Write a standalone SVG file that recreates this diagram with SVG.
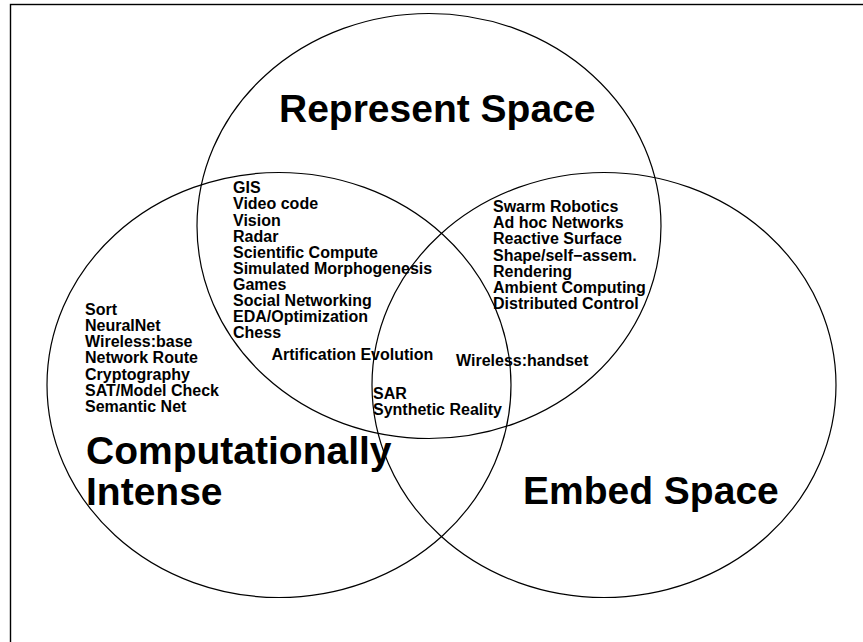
<svg xmlns="http://www.w3.org/2000/svg" width="863" height="642" viewBox="0 0 863 642">
<style>
.c{fill:none;stroke:#000;stroke-width:1.2}
.big{font-family:"Liberation Sans",Arial,sans-serif;font-weight:bold;font-size:39px;fill:#000}
.s{font-family:"Liberation Sans",Arial,sans-serif;font-weight:bold;font-size:16px;fill:#000}
</style>
<rect x="0" y="0" width="863" height="642" fill="#fff"/>
<rect x="10.5" y="4.5" width="900" height="700" fill="none" stroke="#000" stroke-width="1.4"/>
<g id="represent">
<ellipse class="c" cx="429" cy="226" rx="232" ry="212.5"/>
<text class="big" x="279" y="122">Represent Space</text>
</g>
<g id="compute">
<ellipse class="c" cx="279" cy="385" rx="232" ry="212.5"/>
<text class="big" x="86" y="464">Computationally</text>
<text class="big" x="86" y="505">Intense</text>
</g>
<g id="embed">
<ellipse class="c" cx="604" cy="385" rx="232" ry="212.5"/>
<text class="big" x="523" y="504">Embed Space</text>
</g>
<g id="rep-comp">
<text class="s" x="233" y="193.3">GIS</text>
<text class="s" x="233" y="209.4">Video code</text>
<text class="s" x="233" y="225.5">Vision</text>
<text class="s" x="233" y="241.6">Radar</text>
<text class="s" x="233" y="257.7">Scientific Compute</text>
<text class="s" x="233" y="273.8">Simulated Morphogenesis</text>
<text class="s" x="233" y="289.9">Games</text>
<text class="s" x="233" y="306">Social Networking</text>
<text class="s" x="233" y="322.1">EDA/Optimization</text>
<text class="s" x="233" y="338.2">Chess</text>
<text class="s" x="271.5" y="360">Artification Evolution</text>
</g>
<g id="rep-embed">
<text class="s" x="493" y="211.7">Swarm Robotics</text>
<text class="s" x="493" y="228">Ad hoc Networks</text>
<text class="s" x="493" y="244.2">Reactive Surface</text>
<text class="s" x="493" y="260.5">Shape/self&#8722;assem.</text>
<text class="s" x="493" y="276.8">Rendering</text>
<text class="s" x="493" y="293">Ambient Computing</text>
<text class="s" x="493" y="309.3">Distributed Control</text>
</g>
<g id="comp-only">
<text class="s" x="85" y="315">Sort</text>
<text class="s" x="85" y="331.1">NeuralNet</text>
<text class="s" x="85" y="347.2">Wireless:base</text>
<text class="s" x="85" y="363.4">Network Route</text>
<text class="s" x="85" y="379.5">Cryptography</text>
<text class="s" x="85" y="395.6">SAT/Model Check</text>
<text class="s" x="85" y="411.7">Semantic Net</text>
</g>
<g id="embed-extra">
<text class="s" x="456" y="366">Wireless:handset</text>
</g>
<g id="all-three">
<text class="s" x="373" y="398.5">SAR</text>
<text class="s" x="373" y="414.7">Synthetic Reality</text>
</g>
</svg>
